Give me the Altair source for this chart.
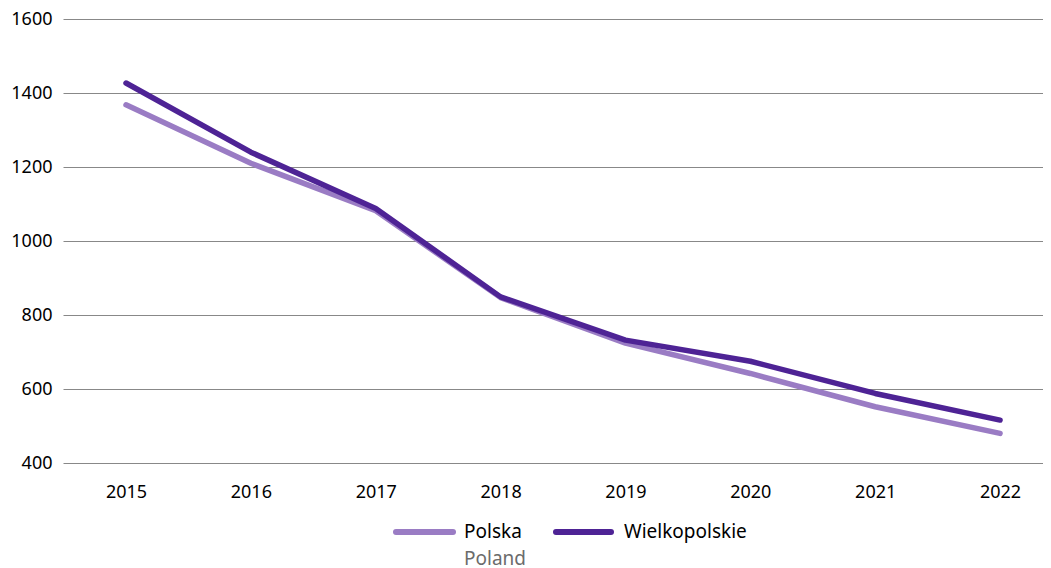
import altair as alt
import pandas as pd

years = [2015, 2016, 2017, 2018, 2019, 2020, 2021, 2022]
polska = [1368, 1210, 1082, 847, 724, 642, 552, 480]
wielkopolskie = [1427, 1240, 1088, 849, 732, 675, 588, 516]
series_names = ["Polska", "Wielkopolskie"]
series_colors = ["#9a7cc4", "#4e2395"]
y_ticks = [400, 600, 800, 1000, 1200, 1400, 1600]

FONT = "Noto Sans"

df = pd.DataFrame({
    "year": years * 2,
    "value": polska + wielkopolskie,
    "series": ["Polska"] * len(years) + ["Wielkopolskie"] * len(years),
})

x_enc = alt.X(
    "year:Q",
    scale=alt.Scale(domain=[2014.4954, 2022.344], nice=False, zero=False),
    axis=alt.Axis(values=years, format="d", grid=False, domain=False, ticks=False,
                  labelPadding=20, labelFontSize=18, labelColor="#000", labelFont=FONT,
                  title=None),
)
y_enc = alt.Y(
    "value:Q",
    scale=alt.Scale(domain=[400, 1600], nice=False, zero=False),
    axis=alt.Axis(values=y_ticks, format="d", grid=True, gridColor="#888888", gridWidth=1,
                  domain=False, ticks=False, labelPadding=11, labelFontSize=18,
                  labelColor="#000", labelFont=FONT, title=None),
)
color_enc = alt.Color("series:N", scale=alt.Scale(domain=series_names, range=series_colors), legend=None)

base = alt.Chart(df)
line_pl = base.transform_filter(alt.datum.series == "Polska").mark_line(
    strokeWidth=5.5, strokeCap="round", strokeJoin="round").encode(x=x_enc, y=y_enc, color=color_enc)
line_wl = base.transform_filter(alt.datum.series == "Wielkopolskie").mark_line(
    strokeWidth=5.5, strokeCap="round", strokeJoin="round").encode(x=x_enc, y=y_enc, color=color_enc)

one = pd.DataFrame({"k": [0]})
leg_sym1 = alt.Chart(one).mark_rule(strokeWidth=6, strokeCap="round", color=series_colors[0]).encode(
    x=alt.value(333), x2=alt.value(390), y=alt.value(513))
leg_txt1 = alt.Chart(one).mark_text(text="Polska", align="left", baseline="middle", fontSize=19,
                                     font=FONT, color="#000").encode(x=alt.value(401), y=alt.value(513))
leg_txt1b = alt.Chart(one).mark_text(text="Poland", align="left", baseline="middle", fontSize=19,
                                      font=FONT, color="#6b6b6b").encode(x=alt.value(401), y=alt.value(540))
leg_sym2 = alt.Chart(one).mark_rule(strokeWidth=6, strokeCap="round", color=series_colors[1]).encode(
    x=alt.value(493), x2=alt.value(548), y=alt.value(513))
leg_txt2 = alt.Chart(one).mark_text(text="Wielkopolskie", align="left", baseline="middle", fontSize=19,
                                     font=FONT, color="#000").encode(x=alt.value(561), y=alt.value(513))

chart = alt.layer(line_pl, line_wl, leg_sym1, leg_txt1, leg_txt1b, leg_sym2, leg_txt2).properties(
    width=980, height=444,
    padding={"left": 2, "top": 2, "right": 0, "bottom": 0},
    background="white"
).configure_view(stroke=None)

chart.save("out.html", embed_options={"renderer": "svg", "actions": False})
